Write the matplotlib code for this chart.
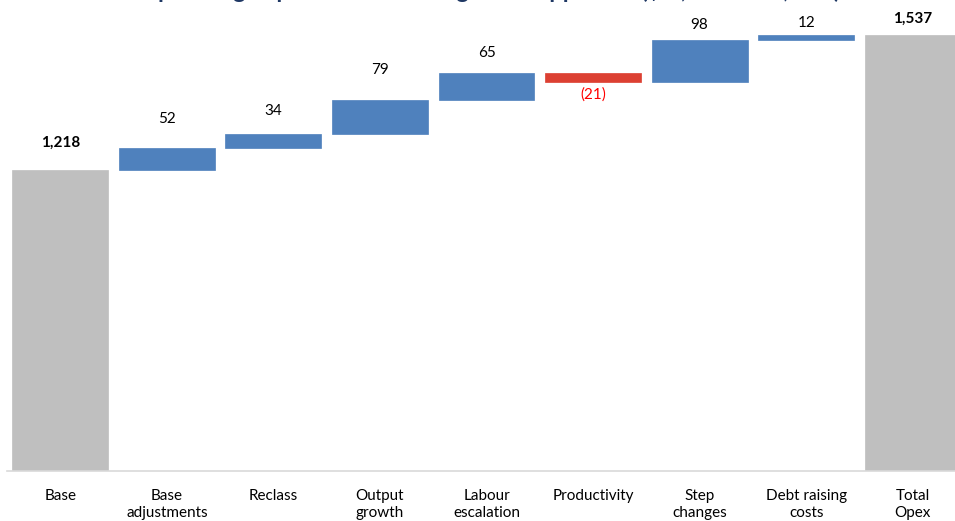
import numpy as np
import matplotlib
matplotlib.use("Agg")
from matplotlib import pyplot as plt

categories = ["Base", "Base\nadjustments", "Reclass", "Output\ngrowth", "Labour\nescalation",
              "Productivity", "Step\nchanges", "Debt raising\ncosts", "Total\nOpex"]
base_value = 1218
steps = [52, 34, 79, 65, -21, 98, 12]
total_value = 1537
title = "Operating expenditure building block approach ($m, 2023-24, real)"

BLUE = "#4f81bd"
RED = "#dc4032"
GREY = "#bfbfbf"

# label gap above/below each bar, in pixels
label_gap = [27, 29, 23, 30, 20, 13, 15, 12, 16]

fig = plt.figure(figsize=(9.55, 5.21), dpi=100)
plt.rcParams['font.family'] = ['Lato', 'DejaVu Sans']
ax = fig.add_axes([7/955, 50/521, 959/955, 471/521])

cum = np.concatenate([[base_value], base_value + np.cumsum(steps)])
bottoms = [0] + list(np.minimum(cum[:-1], cum[1:])) + [0]
heights = [base_value] + [abs(s) for s in steps] + [total_value]
colors = [GREY] + [BLUE if s >= 0 else RED for s in steps] + [GREY]
x = np.arange(len(categories))
ax.bar(x, heights, bottom=bottoms, width=0.9, color=colors, edgecolor=colors, linewidth=0.5)

labels = [f"{base_value:,}"] + [f"{s}" if s >= 0 else f"({-s})" for s in steps] + [f"{total_value:,}"]
for i, lab in enumerate(labels):
    top = bottoms[i] + heights[i]
    bold = i in (0, len(labels) - 1)
    if i > 0 and i < len(labels) - 1 and steps[i - 1] < 0:
        ax.annotate(lab, (x[i], bottoms[i]), xytext=(0, -label_gap[i] * 0.72),
                    textcoords="offset points", ha="center", va="center",
                    fontsize=11, color="#ff0000")
    else:
        ax.annotate(lab, (x[i], top), xytext=(0, label_gap[i] * 0.72),
                    textcoords="offset points", ha="center", va="center",
                    fontsize=11, color="black", fontweight="bold" if bold else "normal")

ax.set_xlim(-0.5, 8.5)
ax.set_ylim(507, 1620)
ax.set_xticks(x)
ax.set_xticklabels(categories, fontsize=11, linespacing=1.25)
ax.tick_params(axis="x", length=0, pad=13)
ax.set_yticks([])
for s in ["top", "right", "left"]:
    ax.spines[s].set_visible(False)
ax.spines["bottom"].set_color("#d9d9d9")
ax.spines["bottom"].set_linewidth(1.2)

# title sits mostly above the top edge, as in the reference
fig.text(0.513, 1 + 1.5/521, title, ha="center", va="baseline", fontsize=17,
         fontweight="bold", color="#1f3864")

fig.savefig("out.png", dpi=100)
